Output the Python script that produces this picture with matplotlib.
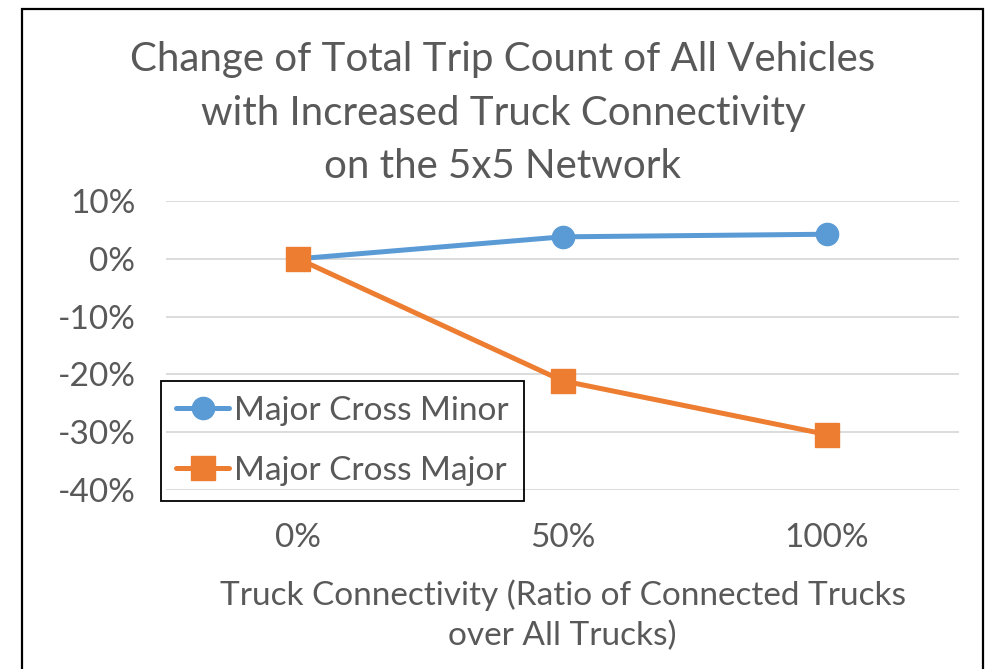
import matplotlib
matplotlib.use("Agg")
import matplotlib.pyplot as plt
from matplotlib.patches import Rectangle
from matplotlib.ticker import FuncFormatter

categories = ["0%", "50%", "100%"]
minor_vals = [0.0, 3.8, 4.25]
major_vals = [0.0, -21.1, -30.4]
yticks = [10, 0, -10, -20, -30, -40]

plt.rcParams['font.family'] = ['Lato', 'DejaVu Sans']
gray = '#595959'

fig = plt.figure(figsize=(9.86, 6.69), dpi=100)
W, H = 986, 669
ax = fig.add_axes([166 / W, 1 - 490 / H, (959 - 166) / W, (490 - 201) / H])

x = list(range(len(categories)))
ax.plot(x, minor_vals, color='#5B9BD5', lw=3.6, marker='o', ms=16,
        label='Major Cross Minor', solid_capstyle='round', zorder=3)
ax.plot(x, major_vals, color='#ED7D31', lw=3.6, marker='s', ms=17.5,
        label='Major Cross Major', solid_capstyle='round', zorder=3)

ax.set_xlim(-0.5, 2.5)
ax.set_ylim(-40, 10)
ax.set_yticks(yticks)
ax.yaxis.set_major_formatter(FuncFormatter(lambda v, p: f"{int(round(v))}%"))
ax.set_xticks(x)
ax.set_xticklabels(categories)
ax.grid(axis='y', color='#D9D9D9', lw=1.3)
ax.set_axisbelow(True)
for s in ax.spines.values():
    s.set_visible(False)
ax.tick_params(axis='both', length=0, labelsize=24, labelcolor=gray)
ax.tick_params(axis='y', pad=22)
ax.tick_params(axis='x', pad=24)

ax.set_xlabel("Truck Connectivity (Ratio of Connected Trucks\nover All Trucks)",
              fontsize=24, color=gray, labelpad=19, linespacing=1.38)

fig.text(503 / W, 1 - 113 / H,
         "Change of Total Trip Count of All Vehicles\nwith Increased Truck Connectivity\non the 5x5 Network",
         ha='center', va='center', fontsize=29, color=gray, linespacing=1.56)

leg = ax.legend(loc='upper left', bbox_to_anchor=((161 - 166) / (959 - 166), (490 - 381) / (490 - 201)),
                fontsize=24, frameon=True, fancybox=False, facecolor='none',
                edgecolor='black', borderpad=0.45, handlelength=1.6, handletextpad=0.15,
                labelspacing=0.9, borderaxespad=0)
leg.get_frame().set_linewidth(1.3)
leg.get_frame().set_alpha(None)
for t in leg.get_texts():
    t.set_color(gray)

fig.patches.append(Rectangle((22 / W, -0.05), (983 - 22) / W, 1 - 9 / H + 0.05,
                             transform=fig.transFigure, fill=False,
                             edgecolor='black', lw=1.6))

fig.savefig("out.png", dpi=100)
